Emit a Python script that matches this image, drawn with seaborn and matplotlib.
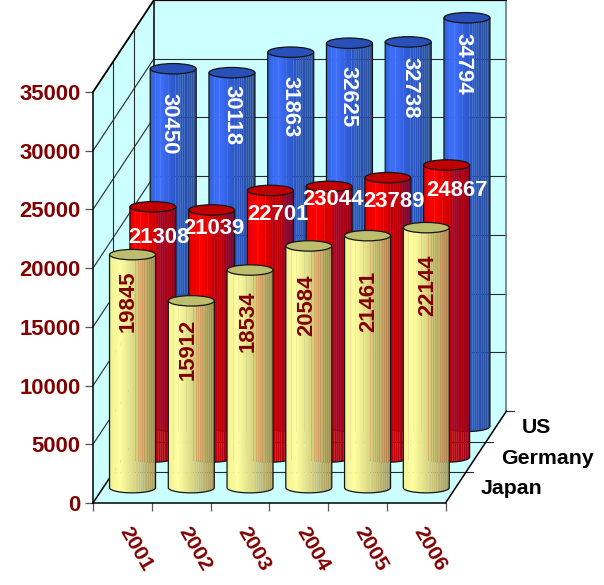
import numpy as np
import pandas as pd
import seaborn as sns
import matplotlib
matplotlib.use("Agg")
import matplotlib.pyplot as plt
from matplotlib.path import Path
from matplotlib.patches import PathPatch, Ellipse, Polygon

years = ["2001", "2002", "2003", "2004", "2005", "2006"]
japan = [19845, 15912, 18534, 20584, 21461, 22144]
germany = [21308, 21039, 22701, 23044, 23789, 24867]
us = [30450, 30118, 31863, 32625, 32738, 34794]
series_names = ["Japan", "Germany", "US"]
y_ticks = [0, 5000, 10000, 15000, 20000, 25000, 30000, 35000]

# hand placed value labels, in pixels from the centre of the bar top
japan_dx = [-4.5, -3.6, -2, -1.8, 1.5, 1.7]
japan_dy = [46.4, 48.9, 51, 59, 65.4, 57.4]
germany_dx = [6.1, 1.9, 7.9, 3.9, 6.6, 9.9]
germany_dy = [30.7, 19, 23.6, 13.6, 23.4, 26]
us_dx = [-4.2, -0.3, -0.7, -1.5, 1.8, -4]
us_dy = [54.8, 42.4, 54.9, 53.8, 46.1, 46.3]

# scale of the picture
W, H = 604, 585
DPI = 100
X0_PX, Y0_PX = 93, 503       # where the front corner sits
PX_PER_CAT = 58.75
PX_PER_VAL = 411 / 35000
DEPTH_X = 20.33 / PX_PER_CAT  # shift of one series slot, in data units
DEPTH_Y = 30.67 / PX_PER_VAL
BAR_W = 46 / PX_PER_CAT
ELL_H = 5.2 / PX_PER_VAL
WALL = "#CCFFFF"
DARK_RED = "#800000"
LINE = "#2a2a2a"

# body gradients: position across the cylinder, colour
shades = {
    "Japan": ([0, .08, .22, .5, .8, 1], ["#EFEF92", "#F6F69A", "#FFFFA0", "#DEDC88", "#BDB26C", "#A89C60"]),
    "Germany": ([0, .08, .25, .5, .8, 1], ["#D80000", "#F00000", "#FF0000", "#D40000", "#B00010", "#900020"]),
    "US": ([0, .08, .22, .5, .8, 1], ["#3060D8", "#3568E8", "#4070FF", "#2E5AD0", "#2850B0", "#305090"]),
}
tops = {"Japan": "#BDBD6E", "Germany": "#C00000", "US": "#2850B8"}
label_colors = {"Japan": DARK_RED, "Germany": "white", "US": "white"}
label_rot = {"Japan": 90, "Germany": 0, "US": -90}
# thin seams in the gradient where whatever is behind shows through
seams = [.12, .23, .41, .56, .61, .66, .71, .76, .81, .86, .91, .95]


def hex_rgb(c):
    return np.array(matplotlib.colors.to_rgb(c))


def body_image(name):
    pos, cols = shades[name]
    rgb = np.array([hex_rgb(c) for c in cols])
    t = (np.arange(92) + 0.5) / 92
    img = np.ones((1, 92, 4))
    for k in range(3):
        img[0, :, k] = np.interp(t, pos, rgb[:, k])
    for s in seams:
        i = int(s * 92)
        img[0, i:i + 2, 3] = 0.84 if s > .5 else 0.92
    return img


sns.set_theme(style="white")
plt.rcParams["font.family"] = ["Liberation Sans", "DejaVu Sans"]
plt.rcParams["font.weight"] = "bold"

fig = plt.figure(figsize=(W / DPI, H / DPI), dpi=DPI)
ax = fig.add_axes([0, 0, 1, 1])
ax.set_facecolor("white")

n_cat = len(years)
depth_x = 3 * DEPTH_X
depth_y = 3 * DEPTH_Y
ymax = y_ticks[-1]

# walls and floor
ax.add_patch(Polygon([(0, 0), (depth_x, depth_y), (n_cat + depth_x, depth_y), (n_cat, 0)], fc=WALL, ec="none", zorder=1))
ax.add_patch(Polygon([(depth_x, depth_y), (depth_x, depth_y + ymax), (n_cat + depth_x, depth_y + ymax),
                      (n_cat + depth_x, depth_y)], fc=WALL, ec="none", zorder=1))
ax.add_patch(Polygon([(0, 0), (0, ymax), (depth_x, depth_y + ymax), (depth_x, depth_y)], fc=WALL, ec="none", zorder=1))

for v in y_ticks[1:-1]:
    ax.plot([0, depth_x], [v, v + depth_y], color=LINE, lw=0.8, zorder=1.5)
    ax.plot([depth_x, n_cat + depth_x], [v + depth_y, v + depth_y], color=LINE, lw=0.8, zorder=1.5)
for d in (1, 2):
    ax.plot([d * DEPTH_X, d * DEPTH_X], [d * DEPTH_Y, ymax + d * DEPTH_Y], color=LINE, lw=0.8, zorder=1.5)
    ax.plot([d * DEPTH_X, n_cat + d * DEPTH_X + 7 / PX_PER_CAT], [d * DEPTH_Y, d * DEPTH_Y], color=LINE, lw=0.8, zorder=1.5)
ax.plot([n_cat + depth_x, n_cat + depth_x + 8 / PX_PER_CAT], [depth_y, depth_y], color=LINE, lw=0.8, zorder=1.5)
ax.plot([n_cat + depth_x, n_cat + depth_x], [depth_y, depth_y + ymax], color="#607070", lw=1.1, zorder=1.5)

# frame edges
ax.plot([depth_x, depth_x], [depth_y, depth_y + ymax], color="black", lw=1.1, zorder=1.6)
ax.plot([0, depth_x], [0, depth_y], color="black", lw=1.1, zorder=1.6)
ax.plot([n_cat, n_cat + depth_x], [0, depth_y], color="black", lw=1.1, zorder=1.6)
ax.plot([0, depth_x], [ymax, ymax + depth_y], color="black", lw=1.3, zorder=1.6)
ax.plot([depth_x, n_cat + depth_x], [ymax + depth_y, ymax + depth_y], color="black", lw=1.6, zorder=1.6)

series = [("US", us, us_dx, us_dy, 2), ("Germany", germany, germany_dx, germany_dy, 1),
          ("Japan", japan, japan_dx, japan_dy, 0)]

theta = np.linspace(np.pi, 2 * np.pi, 40)
for order, (name, values, lab_dx, lab_dy, slot) in enumerate(series):
    xpos = [i + 0.5 + (slot + 0.5) * DEPTH_X for i in range(n_cat)]
    base = (slot + 0.5) * DEPTH_Y
    frame = pd.DataFrame({"x": xpos, "value": values})
    sns.barplot(data=frame, x="x", y="value", native_scale=True, width=BAR_W, color=tops[name],
                saturation=1, errorbar=None, bottom=base, ax=ax)
    z = 3 + order
    img = body_image(name)
    for i, bar in enumerate(ax.containers[-1]):
        # seaborn lays the bar out, the cylinder is painted over its rectangle
        bar.set_facecolor("none")
        bar.set_edgecolor("none")
        x0, w = bar.get_x(), bar.get_width()
        y0, top = bar.get_y(), bar.get_y() + bar.get_height()
        cx = x0 + w / 2
        arc_x = cx + w / 2 * np.cos(theta)
        arc_y = y0 + ELL_H * np.sin(theta)
        verts = np.column_stack([np.r_[x0, arc_x, x0 + w], np.r_[top, arc_y, top]])
        outline = Path(verts)
        im = ax.imshow(img, extent=(x0, x0 + w, y0 - ELL_H, top), aspect="auto", interpolation="nearest", zorder=z)
        im.set_clip_path(PathPatch(Path(np.vstack([verts, verts[0]]), closed=True), transform=ax.transData))
        ax.add_patch(PathPatch(outline, fc="none", ec="#151515", lw=0.9, zorder=z + 0.1))
        ax.add_patch(Ellipse((cx, top), w, 2 * ELL_H, fc=tops[name], ec="#151515", lw=0.9, zorder=z + 0.2))
        ax.annotate(str(values[i]), xy=(cx, top), xytext=(lab_dx[i] * 0.72, -lab_dy[i] * 0.72),
                    textcoords="offset points", ha="center", va="center", rotation=label_rot[name],
                    color=label_colors[name], fontsize=15.9, fontweight="bold", zorder=10)

# series names next to the floor ticks
for d, name in enumerate(series_names, start=1):
    ax.annotate(name, xy=(n_cat + d * DEPTH_X, d * DEPTH_Y), xytext=(15 * 0.72, -22 * 0.72),
                textcoords="offset points", ha="left", va="baseline", color="black",
                fontsize=15.3, fontweight="bold", zorder=10)

sns.despine(ax=ax, top=True, right=True)
ax.spines["left"].set_position(("data", 0))
ax.spines["bottom"].set_position(("data", 0))
ax.spines["left"].set_bounds(0, ymax)
ax.spines["bottom"].set_bounds(0, n_cat)
for side in ("left", "bottom"):
    ax.spines[side].set_color("black")
    ax.spines[side].set_linewidth(1.1)

ax.set_yticks(y_ticks)
ax.set_yticklabels([str(v) for v in y_ticks])
ax.tick_params(axis="y", left=True, length=5.8, width=0.9, color="#555555", pad=3,
               labelsize=15.9, labelcolor=DARK_RED)
ax.set_xticks(range(n_cat + 1))
ax.set_xticklabels([])
ax.tick_params(axis="x", which="major", bottom=True, length=5.8, width=0.9, color="#555555")
# year labels sit on minor ticks so they can be off the major ones
ax.set_xticks([i + 0.74 for i in range(n_cat)], minor=True)
ax.set_xticklabels(years, minor=True, rotation=-60, ha="center", va="top", color=DARK_RED,
                   fontsize=15.4, fontweight="bold")
ax.tick_params(axis="x", which="minor", bottom=True, length=0, pad=15)
ax.set_xlabel("")
ax.set_ylabel("")
ax.grid(False)

ax.set_xlim(-X0_PX / PX_PER_CAT, (W - X0_PX) / PX_PER_CAT)
ax.set_ylim(-(H - Y0_PX) / PX_PER_VAL, Y0_PX / PX_PER_VAL)

fig.savefig("out.png", dpi=DPI, facecolor="white")
